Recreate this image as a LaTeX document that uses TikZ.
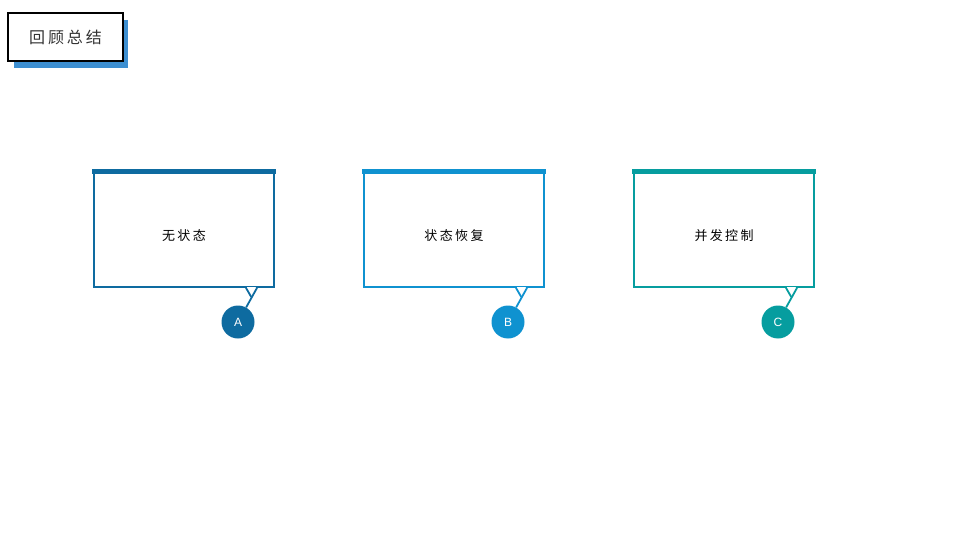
\documentclass[tikz,border=0pt]{standalone}
\usepackage{fontspec}
\newfontfamily\cjk{Noto Sans CJK SC}
\newfontfamily\cjkspaced[LetterSpace=18]{Noto Sans CJK SC}
\newfontfamily\latinsans{Liberation Sans}
\definecolor{cA}{HTML}{0E6BA0}
\definecolor{cB}{HTML}{0F92D0}
\definecolor{cC}{HTML}{069D9F}
\definecolor{shadowblue}{HTML}{3D8FD1}
\definecolor{titlegray}{HTML}{333333}
\begin{document}
\begin{tikzpicture}[x=1pt,y=-1pt,
  bubble/.style={draw=#1,line width=1.8pt,minimum width=180pt,minimum height=116pt,inner sep=0pt},
  bubbletext/.style={font=\cjkspaced\fontsize{13}{15}\selectfont,text=black},
  badge/.style={circle,fill=#1,minimum size=33pt,inner sep=0pt,text=white,font=\latinsans\fontsize{12}{14}\selectfont},
]
\useasboundingbox (0,0) rectangle (960,540);
% title
\fill[shadowblue] (14,20) rectangle (128,68);
\node[draw=black,line width=2pt,fill=white,minimum width=115pt,minimum height=48pt,inner sep=0pt,
  font=\cjkspaced\fontsize{16}{18}\selectfont,text=titlegray] (title) at (65.5,37) {\raisebox{1pt}{回顾总结}};

\foreach \n/\cx/\col/\lab/\txt in {a/184/cA/A/无状态, b/454/cB/B/状态恢复, c/724/cC/C/并发控制}{
  \node[bubble=\col,label={[bubbletext,yshift=-6.5pt]center:\txt}] (box\n) at (\cx,229) {};
  \fill[\col] ([xshift=-0.9pt,yshift=0.9pt]box\n.north west) rectangle ([xshift=0.9pt,yshift=-4.2pt]box\n.north east);
  \coordinate (tr\n) at ([xshift=73pt]box\n.south);
  \coordinate (tl\n) at ([xshift=62pt]box\n.south);
  \coordinate (tip\n) at ([xshift=67.2pt,yshift=-9pt]box\n.south);
  \fill[white] ([xshift=0.9pt,yshift=0.9pt]tl\n) -- ([xshift=-0.9pt,yshift=0.9pt]tr\n) -- (tip\n) -- cycle;
  \draw[\col,line width=1.8pt,line join=miter] (tl\n) -- (tip\n);
  \node[badge=\col] (badge\n) at (\cx+54,322) {\lab};
  \draw[\col,line width=1.8pt] (tr\n) -- (badge\n);
}
\end{tikzpicture}
\end{document}
